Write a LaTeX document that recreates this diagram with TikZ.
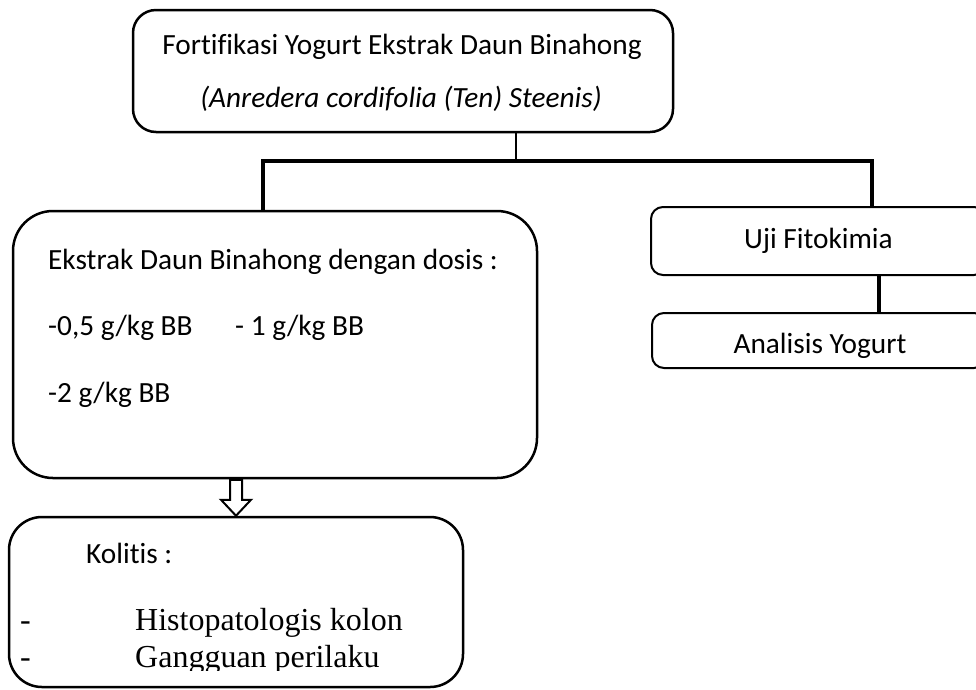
\documentclass[tikz,border=0pt]{standalone}
\usepackage{fontspec}
\setmainfont{Carlito}[Ligatures=NoCommon]
\newfontfamily\timesfont{Liberation Serif}
\usetikzlibrary{calc}
\tikzset{
  kotak/.style={
    rectangle,
    rounded corners=#1,
    draw=black, line width=2.5pt,
    inner sep=0pt},
  kotak/.default=20pt,
  teks/.style={
    anchor=base,
    inner sep=0pt,
    font=\fontsize{29.3pt}{35pt}\selectfont},
  tekskiri/.style={teks, anchor=base west},
  teksroman/.style={
    anchor=base west,
    inner sep=0pt,
    font=\timesfont\fontsize{32pt}{37pt}\selectfont},
  garis/.style={draw, line width=4pt},
  panah/.style={draw, line width=2pt, fill=white},
}

\begin{document}
\begin{tikzpicture}[x=1pt,y=-1pt]
  \useasboundingbox (0,0) rectangle (976,689);
  % kotak
  \node[kotak=23pt, minimum width=540pt, minimum height=122pt] (fort) at (403,71) {};
  \node[kotak=40pt, minimum width=524pt, minimum height=267pt] (dosis) at (275,344.5) {};
  \node[kotak=12pt, line width=2pt, minimum width=335pt, minimum height=68pt] (uji) at (818.5,241) {};
  \node[kotak=12pt, line width=2pt, minimum width=334pt, minimum height=55pt] (anal) at (819,340.5) {};
  \node[kotak=33pt, minimum width=454pt, minimum height=170pt] (kol) at (236,602) {};

  % teks
  \node[teks] (fort1) at (402,54) {Fortifikasi Yogurt Ekstrak Daun Binahong};
  \node[teks] (fort2) at (401,107) {\itshape (Anredera cordifolia (Ten) Steenis)};
  \node[tekskiri] (dosis0) at (48,269) {Ekstrak Daun Binahong dengan dosis :};
  \node[tekskiri] (dosis1) at (48,335) {-0,5 g/kg BB};
  \node[tekskiri] (dosis2) at (235,335) {- 1 g/kg BB};
  \node[tekskiri] (dosis3) at (48,402) {-2 g/kg BB};
  \node[teks] (uji1) at (818.5,248) {Uji Fitokimia};
  \node[teks] (anal1) at (820,353) {Analisis Yogurt};
  \node[tekskiri] (kol0) at (86,563) {Kolitis :};
  \node[teksroman] (strip1) at (20,630) {-};
  \node[teksroman] (kol1) at (135,630) {Histopatologis kolon};
  \begin{scope}
    \clip (0,0) rectangle (976,670);
    \node[teksroman] (strip2) at (20,667) {-};
    \node[teksroman] (kol2) at (135,667) {Gangguan perilaku};
  \end{scope}

  % garis
  \coordinate (pusat) at (516,161);
  \coordinate (kiri) at (263,161);
  \coordinate (kanan) at (872,161);
  \coordinate (bawah) at (879,0);
  \draw[line width=2.5pt] (pusat |- fort.south) -- (pusat);
  \draw[garis] (kiri |- dosis.north) -- (kiri) -- (kanan) -- (kanan |- uji.north);
  \draw[garis] (bawah |- uji.south) -- (bawah |- anal.north);
  \draw[panah] (kol.north) -- ++(-15,-16) -- ++(9,0) -- ++(0,-20)
    -- ++(12,0) -- ++(0,20) -- ++(9,0) -- cycle;
\end{tikzpicture}
\end{document}
